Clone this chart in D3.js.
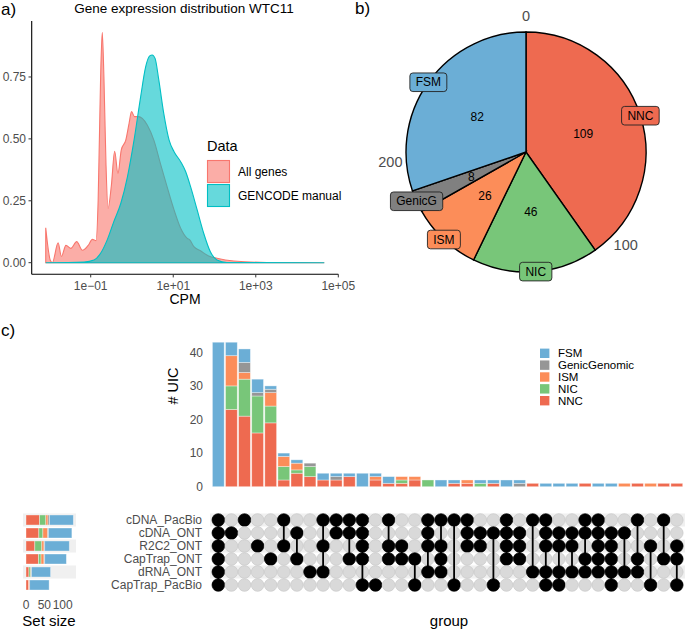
<!DOCTYPE html>
<html><head><meta charset="utf-8">
<script src="https://cdn.jsdelivr.net/npm/d3@7"></script>
<style>body{margin:0;background:#fff}svg{display:block;font-family:"Liberation Sans",Arial,Helvetica,sans-serif}</style>
</head><body><svg id="c" width="685" height="630"></svg>
<script>
// ---------- Panel a data (log10 CPM, density) ----------
const allGenesLogCPM = [-2.09,-1.98,-1.93,-1.79,-1.71,-1.60,-1.48,-1.34,-1.20,-1.06,-0.96,-0.87,-0.82,-0.76,-0.72,-0.68,-0.63,-0.58,-0.50,-0.42,-0.34,-0.26,-0.15,-0.07,-0.01,0.06,0.15,0.25,0.37,0.53,0.69,0.85,1.02,1.18,1.34,1.40,1.50,1.66,1.86,2.06,2.47,3.27,4.66];
const allGenesDensity = [0.141,0.01,0.0,0.08,0.025,0.07,0.058,0.085,0.05,0.07,0.094,0.089,0.25,0.75,0.93,0.75,0.40,0.22,0.31,0.45,0.36,0.455,0.495,0.563,0.61,0.59,0.59,0.583,0.556,0.495,0.40,0.307,0.213,0.139,0.098,0.092,0.065,0.048,0.027,0.018,0.007,0.001,0];
const gencodeLogCPM = [-2.09,-1.16,-0.92,-0.76,-0.60,-0.44,-0.27,-0.11,0.05,0.21,0.33,0.43,0.49,0.56,0.65,0.77,0.90,1.02,1.18,1.30,1.42,1.58,1.74,1.90,2.06,2.30,4.66];
const gencodeDensity = [0,0.003,0.011,0.038,0.092,0.166,0.24,0.347,0.495,0.67,0.79,0.835,0.839,0.825,0.738,0.603,0.495,0.448,0.408,0.368,0.307,0.213,0.118,0.044,0.011,0.001,0];
const densitySeries = ["All genes","GENCODE manual"];
const densityColors = ["#F8766D","#00BFC4"];
const yTicksA = [0,0.25,0.5,0.75];
const yTickLabelsA = ["0.00","0.25","0.50","0.75"];
const xTicksA = [1e-1,1e1,1e3,1e5];
const xTickLabelsA = ["1e\u221201","1e+01","1e+03","1e+05"];

// ---------- Panel b data ----------
const pieCats = ["NNC","NIC","ISM","GenicG","FSM"];
const pieValues = [109,46,26,8,82];
const pieColors = ["#EE6A50","#78C679","#FC8D59","#808080","#6BAED6"];
const pieTicks = [0,100,200];

// ---------- Panel c data ----------
const setNames = ["cDNA_PacBio","cDNA_ONT","R2C2_ONT","CapTrap_ONT","dRNA_ONT","CapTrap_PacBio"];
const categories = ["FSM","GenicGenomic","ISM","NIC","NNC"];
const catColors = ["#6BAED6","#969696","#FC8D59","#78C679","#EE6A50"];
const intersections = ["111111","010000","100000","001000","000100","101000","010100","000010","101010","110000","110100","111101","000001","101100","001100","000101","111010","101110","100001","111000","011000","010001","111100","011100","100010","111011","011011","011010","110110","111110","011111","010010","100110","001001","100100","001101"];
const FSM  = [43,4,4,4,1,1,1,0,2,1,1,4,1,2,0,0,0,2,1,0,1,1,2,1,0,1,1,1,0,1,1,0,0,0,0,0];
const GenicGenomic = [0,0,3,1,1,0,0,1,0,1,0,0,0,0,0,0,0,0,0,0,0,0,0,1,0,0,0,0,0,0,0,0,0,0,0,0];
const ISM  = [0,9,2,0,4,3,2,0,0,0,0,0,1,0,1,1,0,0,0,1,0,0,0,0,0,0,0,0,0,0,0,1,0,1,0,0];
const NIC  = [0,7,11,11,5,4,1,3,0,0,0,0,0,0,1,0,2,0,0,0,1,0,0,0,0,0,0,0,0,0,0,0,0,0,0,0];
const NNC  = [0,23,21,16,19,2,4,3,2,2,3,0,2,1,1,2,0,0,1,1,0,1,0,0,1,0,0,0,1,0,0,0,1,0,1,1];
const yTicksC = [0,10,20,30,40];
const setSizeTicks = [0,50,100];

const svg = d3.select("#c");
svg.append("rect").attr("width",685).attr("height",630).attr("fill","#fff");
const grey = "#4d4d4d";

// panel tags
[["a)",1,15],["b)",355,14],["c)",1,336]].forEach(t=>{
  svg.append("text").attr("x",t[1]).attr("y",t[2]).attr("font-size",17).attr("fill","#000").text(t[0]);
});

// ================= Panel a =================
{
  const x = d3.scaleLog().domain([Math.pow(10,-2.43),1e5]).range([31.7,338.3]);
  const y = d3.scaleLinear().domain([-0.0465,0.9765]).range([274.2,20.9]);
  const g = svg.append("g");
  const mk = (L,D)=>L.map((l,i)=>({l:l,v:D[i]}));
  const data = [mk(allGenesLogCPM,allGenesDensity), mk(gencodeLogCPM,gencodeDensity)];
  const area = d3.area().x(d=>x(Math.pow(10,d.l))).y0(y(0)).y1(d=>y(d.v)).curve(d3.curveMonotoneX);
  data.forEach((d,i)=>{
    g.append("path").attr("d",area(d)).attr("fill",densityColors[i]).attr("fill-opacity",0.6)
      .attr("stroke",densityColors[i]).attr("stroke-width",1.1);
  });
  g.append("line").attr("x1",31.7).attr("x2",31.7).attr("y1",20.9).attr("y2",274.2).attr("stroke","#000").attr("stroke-width",1.1);
  g.append("line").attr("x1",31.7).attr("x2",338.3).attr("y1",274.2).attr("y2",274.2).attr("stroke","#000").attr("stroke-width",1.1);
  yTicksA.forEach((t,i)=>{
    g.append("line").attr("x1",28.5).attr("x2",31.7).attr("y1",y(t)).attr("y2",y(t)).attr("stroke","#333");
    g.append("text").attr("x",26).attr("y",y(t)).attr("dy","0.35em").attr("text-anchor","end").attr("font-size",12).attr("fill",grey).text(yTickLabelsA[i]);
  });
  xTicksA.forEach((t,i)=>{
    g.append("line").attr("x1",x(t)).attr("x2",x(t)).attr("y1",274.2).attr("y2",277.4).attr("stroke","#333");
    g.append("text").attr("x",x(t)).attr("y",290).attr("text-anchor","middle").attr("font-size",12).attr("fill",grey).text(xTickLabelsA[i]);
  });
  g.append("text").attr("x",185).attr("y",304).attr("text-anchor","middle").attr("font-size",14).text("CPM");
  g.append("text").attr("x",184).attr("y",12.5).attr("text-anchor","middle").attr("font-size",13.5).text("Gene expression distribution WTC11");
  // legend
  g.append("text").attr("x",207).attr("y",151).attr("font-size",14.5).text("Data");
  densitySeries.forEach((s,i)=>{
    const yy = 160 + i*24;
    g.append("rect").attr("x",207.5).attr("y",yy+0.5).attr("width",22).attr("height",22)
      .attr("fill",densityColors[i]).attr("fill-opacity",0.6).attr("stroke",densityColors[i]).attr("stroke-width",1.1);
    g.append("text").attr("x",238).attr("y",yy+16).attr("font-size",12).text(s);
  });
}

// ================= Panel b =================
{
  const cx = 526, cy = 152, R = 120;
  const g = svg.append("g").attr("transform",`translate(${cx},${cy})`);
  const total = d3.sum(pieValues);
  const pie = d3.pie().sort(null).value(d=>d)(pieValues);
  const arc = d3.arc().innerRadius(0).outerRadius(R);
  g.selectAll("path.s").data(pie).enter().append("path").attr("d",arc)
    .attr("fill",(d,i)=>pieColors[i]).attr("stroke","#000").attr("stroke-width",1.4);
  const ang = d3.scaleLinear().domain([0,total]).range([0,2*Math.PI]);
  pieTicks.forEach(t=>{
    const a = ang(t), r = 136;
    g.append("text").attr("x",r*Math.sin(a)).attr("y",-r*Math.cos(a)).attr("dy","0.35em")
      .attr("text-anchor","middle").attr("font-size",14.5).attr("fill",grey).text(t);
  });
  pie.forEach((d,i)=>{
    const a = (d.startAngle+d.endAngle)/2;
    g.append("text").attr("x",60*Math.sin(a)).attr("y",-60*Math.cos(a)).attr("dy","0.35em")
      .attr("text-anchor","middle").attr("font-size",12).text(pieValues[i]);
  });
  pie.forEach((d,i)=>{
    const a = (d.startAngle+d.endAngle)/2;
    const px = 120*Math.sin(a), py = -120*Math.cos(a);
    const lg = g.append("g");
    const rect = lg.append("rect");
    const tx = lg.append("text").attr("x",px).attr("y",py).attr("dy","0.35em").attr("text-anchor","middle").attr("font-size",12).text(pieCats[i]);
    const w = tx.node().getComputedTextLength() + 11.6;
    rect.attr("x",px-w/2).attr("y",py-9.3).attr("width",w).attr("height",18.6).attr("rx",3)
      .attr("fill",pieColors[i]).attr("stroke","#222").attr("stroke-width",0.9);
  });
}

// ================= Panel c =================
{
  const n = intersections.length;
  const cols = d3.scaleBand().domain(d3.range(n)).range([211.75,683.35]).paddingInner(0.1).paddingOuter(0.05);
  const by = d3.scaleLinear().domain([0,40]).range([486.7,352.3]);
  const catArrays = {FSM:FSM, GenicGenomic:GenicGenomic, ISM:ISM, NIC:NIC, NNC:NNC};
  const rows = d3.range(n).map(i=>{const o={i:i}; categories.forEach(c=>o[c]=catArrays[c][i]); return o;});
  const stackKeys = ["NNC","NIC","ISM","GenicGenomic","FSM"];
  const color = d3.scaleOrdinal().domain(categories).range(catColors);
  const stacked = d3.stack().keys(stackKeys)(rows);
  const g = svg.append("g");
  stacked.forEach(layer=>{
    layer.forEach((s,i)=>{
      if (s[1]-s[0] <= 0) return;
      g.append("rect").attr("x",cols(i)).attr("width",cols.bandwidth())
        .attr("y",by(s[1])).attr("height",by(s[0])-by(s[1]))
        .attr("fill",color(layer.key)).attr("stroke","rgba(255,255,255,0.45)").attr("stroke-width",0.8);
    });
  });
  yTicksC.forEach(t=>{
    g.append("text").attr("x",203).attr("y",by(t)).attr("dy","0.35em").attr("text-anchor","end")
      .attr("font-size",12).attr("fill",grey).text(t);
  });
  g.append("text").attr("transform","translate(178,386) rotate(-90)").attr("text-anchor","middle")
    .attr("font-size",14.5).text("# UIC");
  // legend
  categories.forEach((c,i)=>{
    const yy = 353.3 + i*11.85;
    g.append("rect").attr("x",540).attr("y",yy-4.7).attr("width",9.4).attr("height",9.4).attr("fill",catColors[i]);
    g.append("text").attr("x",558).attr("y",yy).attr("dy","0.36em").attr("font-size",11.5).text(c);
  });

  // matrix
  const ry = d3.scalePoint().domain(d3.range(setNames.length)).range([520,585]);
  [0,2,4].forEach(r=>{
    g.append("rect").attr("x",210).attr("y",ry(r)-6.5).attr("width",475).attr("height",13).attr("fill","#f0f0f0");
    g.append("rect").attr("x",23).attr("y",ry(r)-6.5).attr("width",53).attr("height",13).attr("fill","#f0f0f0");
  });
  setNames.forEach((s,r)=>{
    g.append("text").attr("x",202).attr("y",ry(r)).attr("dy","0.35em").attr("text-anchor","end")
      .attr("font-size",12).attr("fill",grey).text(s);
  });
  intersections.forEach((code,i)=>{
    const xc = cols(i)+cols.bandwidth()/2;
    const on = [];
    for (let r=0;r<setNames.length;r++){
      const a = code[r]==="1";
      if (a) on.push(r);
      g.append("circle").attr("cx",xc).attr("cy",ry(r)).attr("r",6.3)
        .attr("fill",a?"#000":"#d9d9d9").attr("stroke",a?"#000":"#c9c9c9").attr("stroke-width",0.7);
    }
    if (on.length>1){
      g.append("line").attr("x1",xc).attr("x2",xc).attr("y1",ry(d3.min(on))).attr("y2",ry(d3.max(on)))
        .attr("stroke","#000").attr("stroke-width",1.8);
    }
  });
  g.append("text").attr("x",449).attr("y",626).attr("text-anchor","middle").attr("font-size",15).text("group");

  // set sizes
  const sx = d3.scaleLinear().domain([0,100]).range([26,62.7]);
  setNames.forEach((s,r)=>{
    let acc = 0;
    stackKeys.forEach(k=>{
      let v = 0;
      intersections.forEach((code,i)=>{ if(code[r]==="1") v += catArrays[k][i]; });
      if (v>0){
        g.append("rect").attr("x",sx(acc)).attr("width",sx(acc+v)-sx(acc)).attr("y",ry(r)-5).attr("height",10)
          .attr("fill",color(k)).attr("stroke","rgba(255,255,255,0.45)").attr("stroke-width",0.8);
      }
      acc += v;
    });
  });
  setSizeTicks.forEach(t=>{
    g.append("text").attr("x",sx(t)).attr("y",609).attr("text-anchor","middle").attr("font-size",12).attr("fill",grey).text(t);
  });
  g.append("text").attr("x",49).attr("y",626).attr("text-anchor","middle").attr("font-size",15).text("Set size");
}
</script></body></html>
